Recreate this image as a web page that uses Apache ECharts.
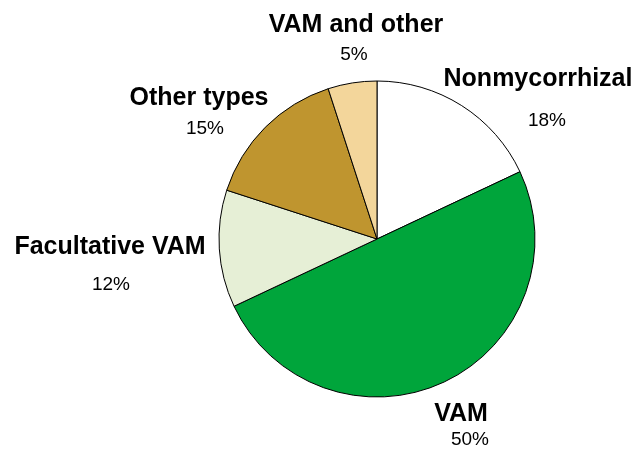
<!DOCTYPE html>
<html>
<head>
<meta charset="utf-8">
<script src="https://cdn.jsdelivr.net/npm/echarts@6/dist/echarts.min.js"></script>
<style>html,body{margin:0;padding:0;background:#fff;}#c{width:644px;height:460px;}</style>
</head>
<body>
<div id="c"></div>
<script>
const categories = ['Nonmycorrhizal', 'VAM', 'Facultative VAM', 'Other types', 'VAM and other'];
const values = [18, 50, 12, 15, 5];
const colors = ['#ffffff', '#00a53b', '#e6efd6', '#bf952f', '#f3d69b'];
// label placement (pixel centres) — styling only
const namePos = [[538, 79], [461, 414], [110, 247], [199, 98], [356, 25]];
const pctPos = [[547, 121], [470, 440], [111, 285], [205, 129], [354, 55]];

const font = "'Liberation Sans', Arial, Helvetica, sans-serif";
const data = categories.map((n, i) => ({ name: n, value: values[i], itemStyle: { color: colors[i] } }));

const chart = echarts.init(document.getElementById('c'), null, { renderer: 'canvas' });
const center = [377, 239];
const radius = 158;
chart.setOption({
  animation: false,
  backgroundColor: '#ffffff',
  series: [
    {
      type: 'pie',
      center: center,
      radius: radius,
      startAngle: 90,
      clockwise: true,
      data: data,
      itemStyle: { borderColor: '#000', borderWidth: 1 },
      emphasis: { disabled: true },
      labelLine: { show: false },
      label: {
        show: true,
        position: 'outside',
        overflow: 'none',
        formatter: '{b}',
        color: '#000',
        fontFamily: font,
        fontWeight: 'bold',
        fontSize: 25
      },
      labelLayout: function (p) {
        const q = namePos[p.dataIndex];
        return { x: q[0], y: q[1], align: 'center', verticalAlign: 'middle' };
      }
    },
    {
      type: 'pie',
      center: center,
      radius: radius,
      startAngle: 90,
      clockwise: true,
      silent: true,
      data: categories.map((n, i) => ({ name: n, value: values[i] })),
      itemStyle: { color: 'rgba(0,0,0,0)', borderWidth: 0 },
      emphasis: { disabled: true },
      labelLine: { show: false },
      label: {
        show: true,
        position: 'outside',
        overflow: 'none',
        formatter: function (p) { return values[p.dataIndex] + '%'; },
        color: '#000',
        fontFamily: font,
        fontSize: 19
      },
      labelLayout: function (p) {
        const q = pctPos[p.dataIndex];
        return { x: q[0], y: q[1], align: 'center', verticalAlign: 'middle' };
      }
    }
  ]
});
</script>
</body>
</html>
